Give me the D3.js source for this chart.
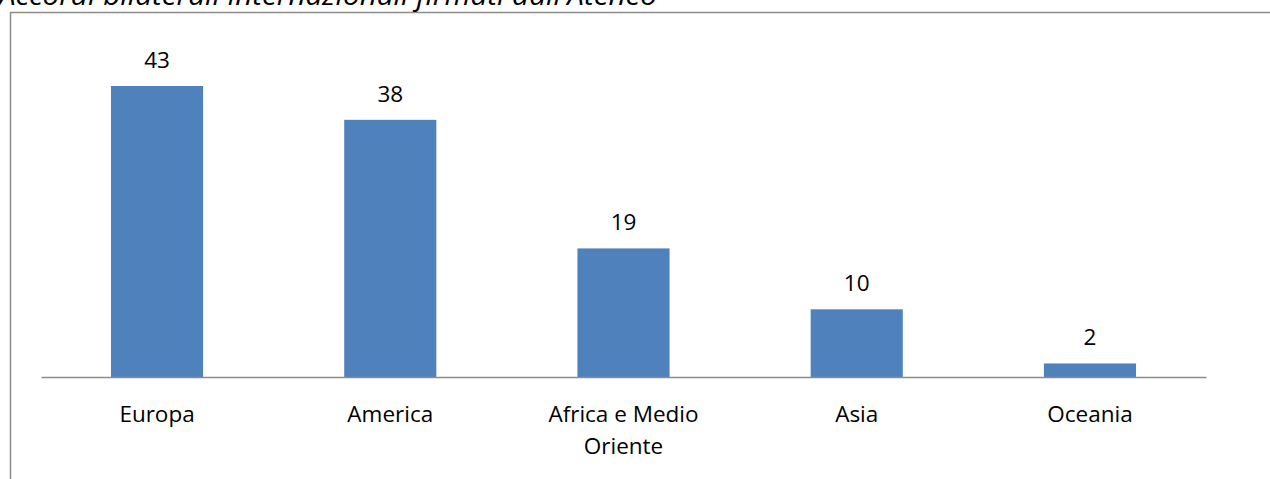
<!DOCTYPE html>
<html>
<head>
<meta charset="utf-8">
<script src="https://cdn.jsdelivr.net/npm/d3@7"></script>
<style>
  html, body { margin: 0; padding: 0; background: #fff; }
  svg { display: block; font-family: "Open Sans", "Noto Sans", sans-serif; }
</style>
</head>
<body>
<svg id="chart" width="1270" height="479"></svg>
<script>
// Accordi bilaterali internazionali per area geografica
const categories = ["Europa", "America", "Africa e Medio Oriente", "Asia", "Oceania"];
const values = [43, 38, 19, 10, 2];
const labelLines = [["Europa"], ["America"], ["Africa e Medio", "Oriente"], ["Asia"], ["Oceania"]];

const svg = d3.select("#chart");

// Rahmen (wird rechts und unten abgeschnitten)
svg.append("rect")
  .attr("x", 10.5)
  .attr("y", 12.5)
  .attr("width", 1300)
  .attr("height", 520)
  .attr("fill", "none")
  .attr("stroke", "#8c8c8c")
  .attr("stroke-width", 1.5);

// Titel, oben abgeschnitten
svg.append("text")
  .attr("x", -1)
  .attr("y", 5)
  .attr("font-style", "italic")
  .attr("font-size", "27px")
  .attr("textLength", 658)
  .attr("lengthAdjust", "spacingAndGlyphs")
  .attr("fill", "#000")
  .text("Accordi bilaterali internazionali firmati dall'Ateneo");

const baseY = 377;
const xScale = d3.scaleBand()
  .domain(categories)
  .range([41, 1206])
  .paddingInner(0.605)
  .paddingOuter(0.3);

const yScale = d3.scaleLinear()
  .domain([0, 43])
  .range([baseY, 86]);

const g = svg.append("g");

g.selectAll("rect.bar")
  .data(categories)
  .enter()
  .append("rect")
    .attr("class", "bar")
    .attr("x", d => xScale(d))
    .attr("y", (d, i) => yScale(values[i]))
    .attr("width", xScale.bandwidth())
    .attr("height", (d, i) => baseY - yScale(values[i]))
    .attr("fill", "#4f81bd");

// Werte über den Balken
g.selectAll("text.val")
  .data(categories)
  .enter()
  .append("text")
    .attr("class", "val")
    .attr("x", d => xScale(d) + xScale.bandwidth() / 2)
    .attr("y", (d, i) => yScale(values[i]) - 18)
    .attr("text-anchor", "middle")
    .attr("font-size", "22.5px")
    .attr("fill", "#000")
    .text((d, i) => values[i]);

// x-Achse
const xAxis = g.append("g")
  .attr("transform", `translate(0,${baseY})`)
  .call(d3.axisBottom(xScale).tickSize(0).tickFormat(""));
xAxis.select(".domain")
  .attr("stroke", "#8c8c8c")
  .attr("stroke-width", 1.5);

// Kategorienbeschriftung (mehrzeilig)
const catLabels = g.selectAll("text.cat")
  .data(categories)
  .enter()
  .append("text")
    .attr("class", "cat")
    .attr("text-anchor", "middle")
    .attr("font-size", "22.5px")
    .attr("fill", "#000");

catLabels.each(function(d, i) {
  const cx = xScale(d) + xScale.bandwidth() / 2;
  d3.select(this).selectAll("tspan")
    .data(labelLines[i])
    .enter()
    .append("tspan")
      .attr("x", cx)
      .attr("y", (t, j) => 422 + j * 32)
      .text(t => t);
});
</script>
</body>
</html>
